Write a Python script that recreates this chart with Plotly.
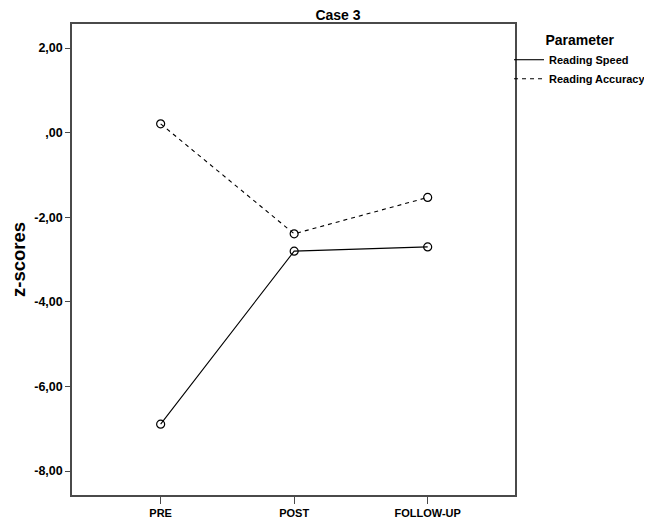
import plotly.graph_objects as go

phases = ["PRE", "POST", "FOLLOW-UP"]
reading_speed = [-6.89, -2.80, -2.70]
reading_accuracy = [0.21, -2.39, -1.53]
y_tick_vals = [2, 0, -2, -4, -6, -8]
y_tick_text = ["2,00", ",00", "-2,00", "-4,00", "-6,00", "-8,00"]

FONT = "Liberation Sans, Arial, sans-serif"
AX = "#4a4a4a"

# the page body has an 8px default margin, so the figure is sized to fit the window
W, H = 644, 510

fig = go.Figure()

marker = dict(symbol="circle-open", size=8, color="black", line=dict(width=1.2, color="black"))

fig.add_trace(go.Scatter(x=phases, y=reading_speed, mode="lines+markers",
                         line=dict(color="black", width=1.1), marker=marker,
                         showlegend=False, name="Reading Speed"))
fig.add_trace(go.Scatter(x=phases, y=reading_accuracy, mode="lines+markers",
                         line=dict(color="black", width=1.1, dash="4px,4px"), marker=marker,
                         showlegend=False, name="Reading Accuracy"))
# legend-only entries (line symbol only, as in the original)
fig.add_trace(go.Scatter(x=[None], y=[None], mode="lines", name="Reading Speed",
                         line=dict(color="black", width=1.1)))
fig.add_trace(go.Scatter(x=[None], y=[None], mode="lines", name="Reading Accuracy",
                         line=dict(color="black", width=1.1, dash="4px,4px")))

fig.update_layout(
    width=W, height=H,
    margin=dict(l=64, r=137, t=16, b=23, autoexpand=False),
    paper_bgcolor="white", plot_bgcolor="white",
    font=dict(family=FONT, color="black"),
    title=dict(text="<b>Case 3</b>", x=330 / W, xanchor="center",
               y=1 - 2.5 / H, yanchor="top", yref="container", pad=dict(t=0, b=0),
               font=dict(size=14, family=FONT)),
    legend=dict(x=0.9865, xanchor="left", y=0.9936, yanchor="top",
                title=dict(text="<b>Parameter</b>", side="top center",
                           font=dict(size=14, family=FONT)),
                font=dict(size=11, family=FONT, weight="bold"),
                bgcolor="rgba(0,0,0,0)", borderwidth=0,
                itemwidth=30, tracegroupgap=0),
    xaxis=dict(type="category", range=[-0.664, 2.654], showgrid=False, zeroline=False,
               automargin=False,
               showline=True, linecolor=AX, linewidth=1.5, mirror=True,
               ticks="outside", ticklen=7, tickcolor=AX, tickwidth=1.2,
               tickfont=dict(size=11, family=FONT, weight="bold")),
    yaxis=dict(range=[-8.565, 2.57], showgrid=False, zeroline=False,
               automargin=False,
               showline=True, linecolor=AX, linewidth=1.5, mirror=True,
               ticks="outside", ticklen=5, tickcolor=AX, tickwidth=1.2,
               tickvals=y_tick_vals, ticktext=y_tick_text,
               tickfont=dict(size=12.5, family=FONT, weight="bold"),
               title=dict(text="<b>z-scores</b>", font=dict(size=18.5, family=FONT), standoff=10)),
)

fig.write_html("out.html")
